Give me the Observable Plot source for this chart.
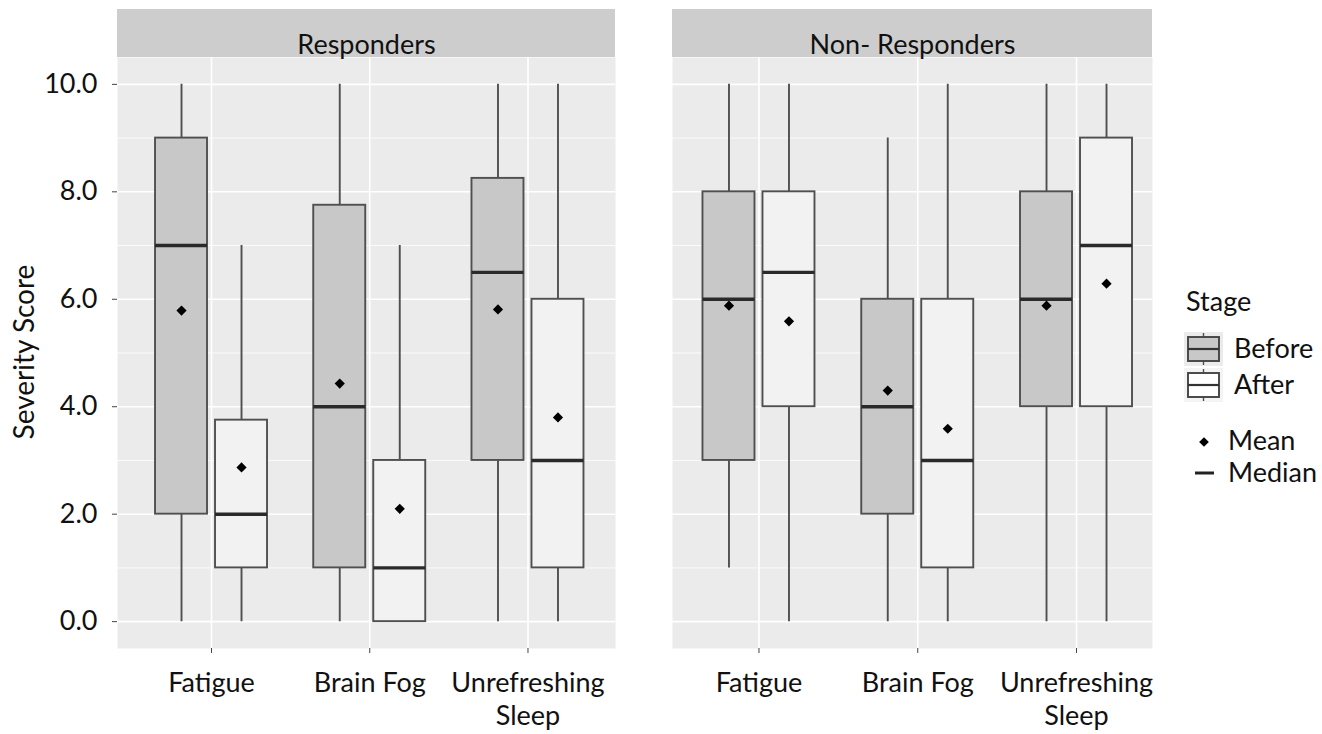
<!DOCTYPE html>
<html>
<head>
<meta charset="utf-8">
<script src="https://cdn.jsdelivr.net/npm/d3@7"></script>
<script src="https://cdn.jsdelivr.net/npm/@observablehq/plot@0.6"></script>
<style>
  body { margin: 0; background: #fff; }
  #wrap { position: relative; width: 1322px; height: 734px; }
  #wrap > svg { position: absolute; left: 0; top: 0; }
</style>
</head>
<body>
<div id="wrap"></div>
<script>
const panels = ["Responders", "Non- Responders"];
const symptoms = ["Fatigue", "Brain Fog", "Unrefreshing Sleep"];
const stages = ["Before", "After"];
const yTicks = [0, 2, 4, 6, 8, 10];
const yMinorTicks = [1, 3, 5, 7, 9];

// order: panel > symptom > stage (Before, After)
const whiskerLow  = [0, 0,    0, 0,    0, 0,     1, 0,    0, 0,   0, 0];
const q1          = [2, 1,    1, 0,    3, 1,     3, 4,    2, 1,   4, 4];
const median      = [7, 2,    4, 1,    6.5, 3,   6, 6.5,  4, 3,   6, 7];
const q3          = [9, 3.75, 7.75, 3, 8.25, 6,  8, 8,    6, 6,   8, 9];
const whiskerHigh = [10, 7,   10, 7,   10, 10,   10, 10,  9, 10,  10, 10];
const mean        = [5.79, 2.87, 4.43, 2.10, 5.81, 3.80, 5.88, 5.59, 4.30, 3.59, 5.88, 6.29];

const rows = [];
let i = 0;
for (const p of panels) for (const s of symptoms) for (const st of stages) {
  rows.push({panel: p, symptom: s, stage: st, lo: whiskerLow[i], q1: q1[i], med: median[i], q3: q3[i], hi: whiskerHigh[i], mean: mean[i]});
  i++;
}

const fills = {Before: "#c8c8c8", After: "#f2f2f2"};
const boxStroke = "#4f4f4f";
const FONT = "Lato, sans-serif";
const FS = 27;

function stageMarks(d, stage, off, step) {
  const ds = d.filter(r => r.stage === stage);
  const inner = step / 2 + 4, outer = step / 2 - 56;
  const inL = off < 0 ? outer : inner, inR = off < 0 ? inner : outer;
  return [
    Plot.ruleX(ds, {x: "symptom", y1: "lo", y2: "hi", dx: off, stroke: boxStroke, strokeWidth: 1.9}),
    Plot.barY(ds, {x: "symptom", y1: "q1", y2: "q3", insetLeft: inL, insetRight: inR, fill: fills[stage], stroke: boxStroke, strokeWidth: 1.9}),
    Plot.tickY(ds, {x: "symptom", y: "med", insetLeft: inL, insetRight: inR, stroke: "#2a2a2a", strokeWidth: 3.4}),
    Plot.dot(ds, {x: "symptom", y: "mean", dx: off, symbol: "diamond2", r: 4.6, fill: "#000", stroke: "none"})
  ];
}

function panelPlot(panel, {left, right, xRange, showY}) {
  const d = rows.filter(r => r.panel === panel);
  const step = (xRange[1] - xRange[0]) / symptoms.length;
  return Plot.plot({
    width: 1322, height: 734,
    marginLeft: left, marginRight: 1322 - right, marginTop: 57, marginBottom: 86,
    style: {fontFamily: FONT, fontSize: FS + "px", color: "#111", background: "transparent", overflow: "visible"},
    x: {domain: symptoms, range: xRange, padding: 0, round: false},
    y: {domain: [-0.5, 10.5]},
    marks: [
      Plot.frame({fill: "#ebebeb"}),
      Plot.gridY({ticks: yMinorTicks, stroke: "#fff", strokeOpacity: 1, strokeWidth: 0.8}),
      Plot.gridY({ticks: yTicks, stroke: "#fff", strokeOpacity: 1, strokeWidth: 1.6}),
      Plot.gridX({stroke: "#fff", strokeOpacity: 1, strokeWidth: 1.6}),
      Plot.rect([panel], {y1: 10.5, y2: 11.394, fill: "#cdcdcd", clip: false}),
      Plot.text([panel], {text: d => d, frameAnchor: "top", dy: -23, fontSize: FS, fill: "#111"}),
      ...stageMarks(d, "Before", -30, step),
      ...stageMarks(d, "After", 30, step),
      showY
        ? Plot.axisY({ticks: yTicks, tickFormat: d3.format(".1f"), tickSize: 5, tickPadding: 15, stroke: "#444", fill: "#111", fontSize: FS, label: null})
        : Plot.axisY({ticks: [], label: null}),
      Plot.axisX({tickSize: 5, tickPadding: 15, stroke: "#444", fill: "#111", fontSize: FS, lineHeight: 1.22, tickFormat: d => d.replace(" Sleep", "\nSleep"), label: null})
    ]
  });
}

const wrap = document.getElementById("wrap");
wrap.appendChild(panelPlot(panels[0], {left: 117, right: 615, xRange: [131.9, 606.6], showY: true}));
wrap.appendChild(panelPlot(panels[1], {left: 672, right: 1152, xRange: [679.1, 1155.4], showY: false}));

// Axis title and legend
const leg = d3.select("#wrap").append("svg")
  .attr("width", 1322).attr("height", 734)
  .style("pointer-events", "none")
  .attr("font-family", FONT).attr("font-size", FS).attr("fill", "#111");
leg.append("text").attr("transform", "translate(34,352) rotate(-90)").attr("text-anchor", "middle").attr("font-size", 28).text("Severity Score");
leg.append("text").attr("x", 1186).attr("y", 311).text("Stage");
stages.forEach((s, k) => {
  const y0 = 337 + k * 36;
  leg.append("rect").attr("x", 1184).attr("y", y0 - 5).attr("width", 39).attr("height", 34).attr("fill", k === 0 ? "#ebebeb" : "#f4f4f4");
  leg.append("line").attr("x1", 1203.5).attr("x2", 1203.5).attr("y1", y0 - 4).attr("y2", y0 + 28).attr("stroke", boxStroke).attr("stroke-width", 1.4);
  leg.append("rect").attr("x", 1188).attr("y", y0).attr("width", 31).attr("height", 24).attr("fill", k === 0 ? fills[s] : "#fff").attr("stroke", "#444").attr("stroke-width", 1.9);
  leg.append("line").attr("x1", 1188).attr("x2", 1219).attr("y1", y0 + 12).attr("y2", y0 + 12).attr("stroke", "#333").attr("stroke-width", 2.2);
  leg.append("text").attr("x", 1234).attr("y", y0 + 21).text(s);
});
leg.append("path").attr("transform", "translate(1204,442)").attr("d", d3.symbol(d3.symbolDiamond2, 60)()).attr("fill", "#000");
leg.append("text").attr("x", 1228).attr("y", 450).text("Mean");
leg.append("line").attr("x1", 1195).attr("x2", 1214).attr("y1", 473).attr("y2", 473).attr("stroke", "#222").attr("stroke-width", 3);
leg.append("text").attr("x", 1228).attr("y", 482).text("Median");
</script>
</body>
</html>
